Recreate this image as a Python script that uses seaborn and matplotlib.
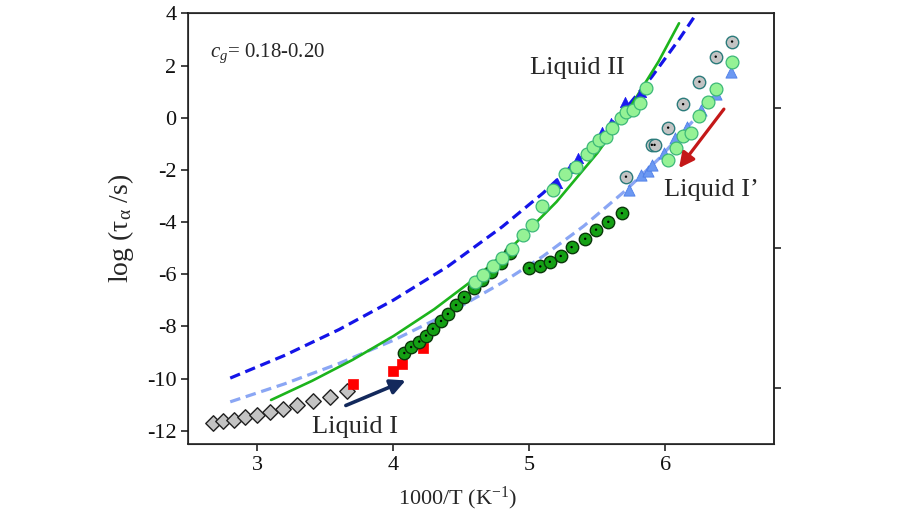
import numpy as np
import pandas as pd
import seaborn as sns
import matplotlib
matplotlib.use("Agg")
import matplotlib.pyplot as plt

# ---- data (x = 1000/T, y = log tau) ----
diamond_x = [2.67, 2.75, 2.83, 2.91, 3.00, 3.09, 3.19, 3.29, 3.41, 3.53, 3.66]
diamond_y = [-11.72, -11.64, -11.58, -11.49, -11.40, -11.28, -11.16, -11.03, -10.86, -10.69, -10.47]

square_x = [3.70, 4.00, 4.06, 4.22]
square_y = [-10.21, -9.70, -9.43, -8.81]

dkgreen_x = [4.08, 4.13, 4.19, 4.24, 4.29, 4.35, 4.40, 4.46, 4.52, 4.59, 4.65, 4.72, 4.79, 4.86,
             5.00, 5.08, 5.15, 5.23, 5.31, 5.41, 5.49, 5.58, 5.68]
dkgreen_y = [-9.02, -8.79, -8.58, -8.35, -8.09, -7.79, -7.52, -7.18, -6.88, -6.53, -6.21, -5.90, -5.55, -5.19,
             -5.77, -5.70, -5.52, -5.30, -4.96, -4.64, -4.29, -3.99, -3.66]

ltgreen_x = [4.60, 4.66, 4.73, 4.80, 4.87, 4.95, 5.02, 5.09, 5.17, 5.26, 5.34, 5.42, 5.47, 5.51, 5.56,
             5.61, 5.67, 5.71, 5.76, 5.81, 5.86,
             6.02, 6.08, 6.13, 6.19, 6.25, 6.31, 6.37, 6.49]
ltgreen_y = [-6.30, -6.02, -5.70, -5.38, -5.04, -4.49, -4.10, -3.37, -2.77, -2.16, -1.87, -1.40, -1.11, -0.85, -0.75,
             -0.38, -0.02, 0.23, 0.30, 0.56, 1.13,
             -1.62, -1.15, -0.70, -0.59, 0.07, 0.62, 1.09, 2.13]

dkblue_tri_x = [5.20, 5.30, 5.36, 5.45, 5.53, 5.60, 5.70, 5.82]
dkblue_tri_y = [-2.51, -1.93, -1.55, -1.10, -0.53, -0.21, 0.62, 1.00]

ltblue_tri_x = [5.73, 5.82, 5.87, 5.90, 5.99, 6.07, 6.16, 6.26, 6.37, 6.48]
ltblue_tri_y = [-2.77, -2.19, -2.06, -1.81, -1.36, -0.79, -0.34, 0.30, 0.91, 1.77]

gray_x = [5.71, 5.90, 5.92, 6.02, 6.13, 6.25, 6.37, 6.49]
gray_y = [-2.26, -1.04, -1.04, -0.38, 0.52, 1.38, 2.34, 2.92]

# fitted curves as drawn in the figure
vft2_x = [2.80, 3.20, 3.60, 4.00, 4.40, 4.80, 5.10, 5.40, 5.70, 5.90, 6.10, 6.25]
vft2_y = [-9.98, -9.11, -8.12, -6.99, -5.70, -4.18, -2.89, -1.41, 0.30, 1.57, 3.00, 4.16]

green_x = [3.10, 3.40, 3.70, 4.00, 4.30, 4.60, 4.90, 5.20, 5.50, 5.75, 5.95, 6.10]
green_y = [-10.82, -10.09, -9.28, -8.37, -7.34, -6.16, -4.80, -3.22, -1.35, 0.48, 2.16, 3.62]

vft1_x = [2.80, 3.20, 3.60, 4.00, 4.40, 4.80, 5.10, 5.40, 5.70, 5.95, 6.20, 6.35]
vft1_y = [-10.89, -10.20, -9.42, -8.53, -7.51, -6.32, -5.31, -4.15, -2.82, -1.58, -0.14, 0.81]

x_ticks = [3, 4, 5, 6]
y_ticks = [-12, -10, -8, -6, -4, -2, 0, 2, 4]

sns.set_style("ticks")
plt.rcParams["font.family"] = ["Liberation Serif", "DejaVu Serif"]
plt.rcParams["mathtext.fontset"] = "custom"
plt.rcParams["mathtext.rm"] = "Liberation Serif"
plt.rcParams["mathtext.it"] = "Liberation Serif:italic"
plt.rcParams["axes.unicode_minus"] = False

fig = plt.figure(figsize=(9.13, 5.14), dpi=100)
ax = fig.add_axes([0.206, 0.136, 0.642, 0.838])

# curves
sns.lineplot(x=vft2_x, y=vft2_y, sort=False, color="#1414e8", lw=2.3,
             linestyle=(0, (3.3, 1.8)), ax=ax, zorder=2)
sns.lineplot(x=vft1_x, y=vft1_y, sort=False, color="#8aa6f4", lw=2.3,
             linestyle=(0, (3.3, 1.8)), ax=ax, zorder=2)
sns.lineplot(x=green_x, y=green_y, sort=False, color="#1cb41c", lw=1.9, ax=ax, zorder=2)

# symbols
sns.scatterplot(x=diamond_x, y=diamond_y, marker="D", s=62, color="#c3c3c3",
                edgecolor="#202020", linewidth=1.0, ax=ax, zorder=3)
sns.scatterplot(x=square_x, y=square_y, marker="s", s=62, color="#ff0000",
                edgecolor="#ff0000", linewidth=0.5, ax=ax, zorder=4)
sns.scatterplot(x=dkblue_tri_x, y=dkblue_tri_y, marker="^", s=55, color="#1a1af0",
                edgecolor="#1a1af0", linewidth=0.5, ax=ax, zorder=3)
sns.scatterplot(x=dkgreen_x, y=dkgreen_y, marker="o", s=80, color="#14a014",
                edgecolor="#0a360a", linewidth=1.0, ax=ax, zorder=4)
sns.scatterplot(x=dkgreen_x, y=dkgreen_y, marker="o", s=3, color="#000000",
                edgecolor="none", ax=ax, zorder=4.1)
sns.scatterplot(x=ltblue_tri_x, y=ltblue_tri_y, marker="^", s=65, color="#6c98f2",
                edgecolor="#4f7fe8", linewidth=0.6, ax=ax, zorder=4)
sns.scatterplot(x=gray_x, y=gray_y, marker="o", s=80, color="#c3c3c3",
                edgecolor="#2b7b7b", linewidth=1.0, ax=ax, zorder=4)
sns.scatterplot(x=gray_x, y=gray_y, marker="o", s=3, color="#000000",
                edgecolor="none", ax=ax, zorder=4.1)
sns.scatterplot(x=ltgreen_x, y=ltgreen_y, marker="o", s=85, color="#95f295",
                edgecolor="#3cb878", linewidth=0.9, ax=ax, zorder=5)

# annotations
ax.text(2.65, 2.48, "$c_g$= 0.18-0.20", fontsize=15, ha="left", va="center")
ax.text(5.35, 1.91, "Liquid II", fontsize=19, ha="center", va="center")
ax.text(5.99, -2.77, "Liquid I\u2019", fontsize=19, ha="left", va="center")
ax.text(3.40, -11.85, "Liquid I", fontsize=19, ha="left", va="center")

ax.annotate("", xy=(4.09, -10.07), xytext=(3.65, -11.03),
            arrowprops=dict(arrowstyle="-|>,head_length=0.9,head_width=0.45",
                            color="#13295c", lw=2.6, shrinkA=0, shrinkB=0), zorder=6)
ax.annotate("", xy=(6.10, -1.93), xytext=(6.43, 0.33),
            arrowprops=dict(arrowstyle="-|>,head_length=0.9,head_width=0.45",
                            color="#c41818", lw=2.3, shrinkA=0, shrinkB=0), zorder=6)

ax.set_xlim(2.49, 6.80)
ax.set_ylim(-12.51, 4.0)
ax.set_xticks(x_ticks)
ax.set_yticks(y_ticks)
ax.tick_params(axis="both", direction="out", length=5, width=1.1, labelsize=16, colors="#111111")
for side in ["left", "bottom", "right", "top"]:
    ax.spines[side].set_visible(True)
    ax.spines[side].set_linewidth(1.1)
    ax.spines[side].set_color("#111111")

ax.set_xlabel("1000/T (K$^{\\mathrm{-1}}$)", fontsize=16, labelpad=4)
ax.xaxis.set_label_coords(0.46, -0.095)
ax.set_ylabel("log (\u03c4$_{\\mathrm{\u03b1}}$ /s)", fontsize=20, labelpad=8)

# unlabelled ticks on the right
ax2 = ax.twinx()
ax2.set_ylim(ax.get_ylim())
ax2.set_yticks([0.375, -4.99, -10.35])
ax2.set_yticklabels([])
ax2.tick_params(axis="y", direction="out", length=5, width=1.1, colors="#111111")
ax2.spines["right"].set_linewidth(1.1)

fig.savefig("out.png", dpi=100)
